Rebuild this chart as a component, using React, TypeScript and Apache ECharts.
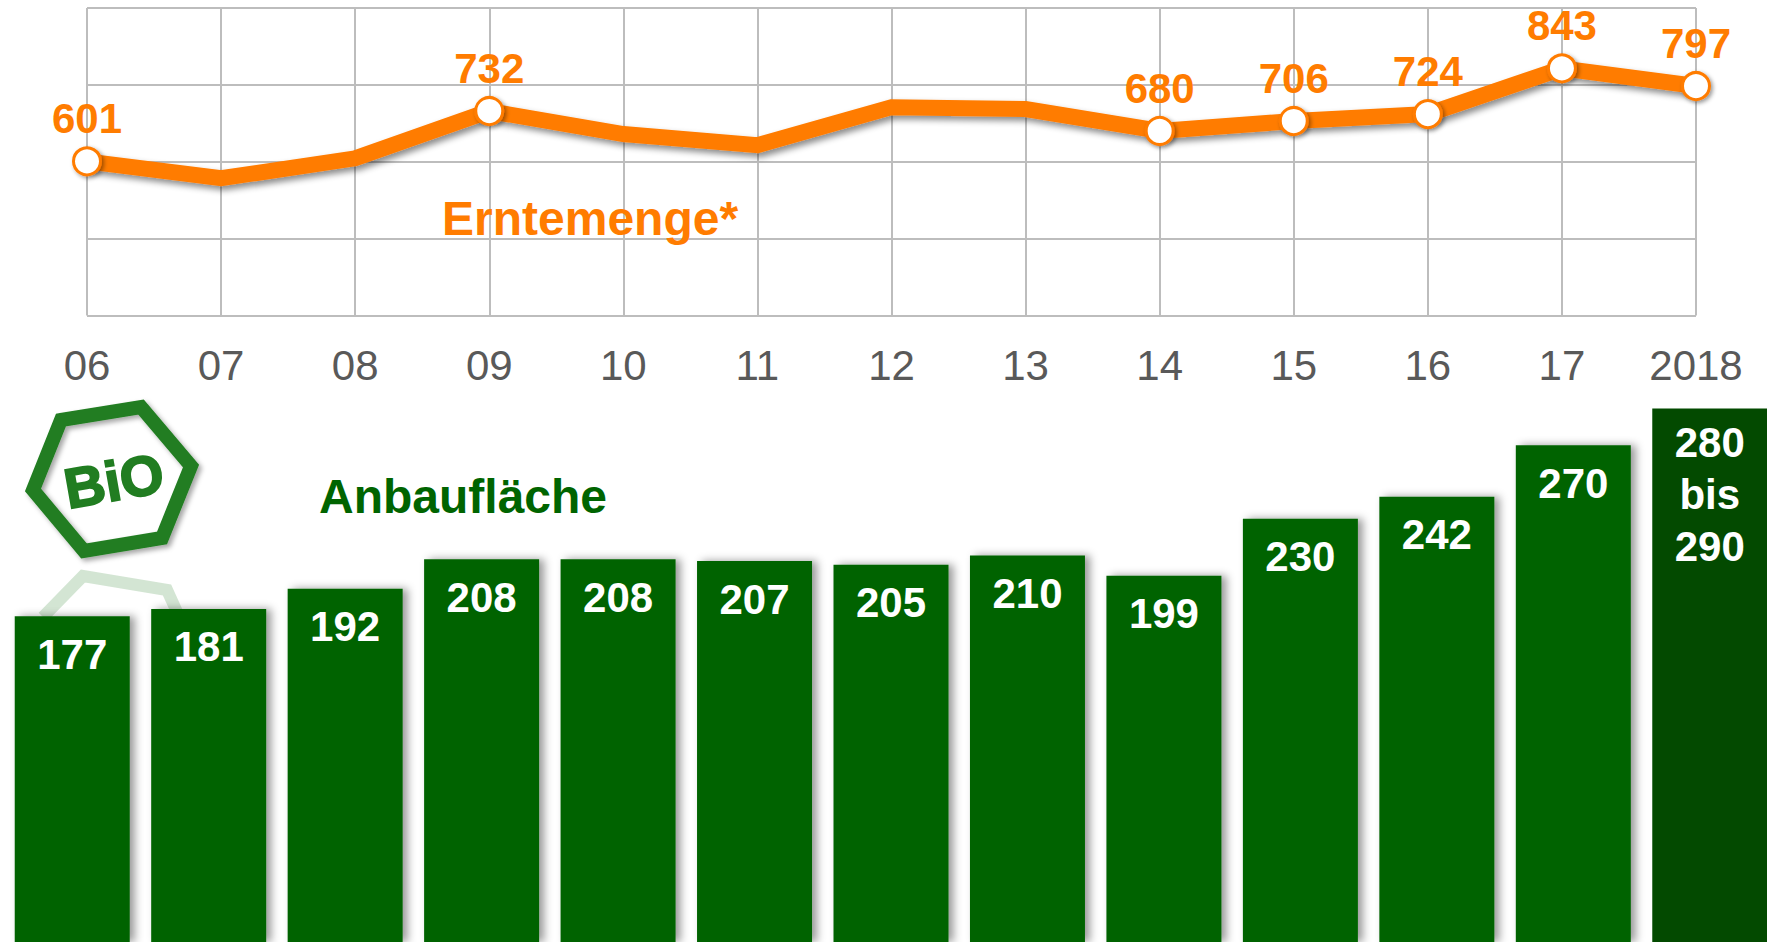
import React, { useEffect, useRef } from "react";
import * as echarts from "echarts";

const lineCategories = ["06", "07", "08", "09", "10", "11", "12", "13", "14", "15", "16", "17", "2018"];
const harvestValues = [601, 557, 609, 732, 672, 643, 742, 737, 680, 706, 724, 843, 797];
const labelledHarvest = [true, false, false, true, false, false, false, false, true, true, true, true, true];
const areaValues = [177, 181, 192, 208, 208, 207, 205, 210, 199, 230, 242, 270, 290];
const areaLabels = ["177", "181", "192", "208", "208", "207", "205", "210", "199", "230", "242", "270", "280\nbis\n290"];
const harvestTitle = "Erntemenge*";
const areaTitle = "Anbaufläche";

const FONT = "Liberation Sans";
const ORANGE = "#ff7c00";
const GREEN = "#026402";
const DARK_GREEN = "#034a00";
const LOGO_GREEN = "#217d21";
const GRID_GREY = "#bdbdbd";

export default function App() {
  const ref = useRef<HTMLDivElement>(null);

  useEffect(() => {
    document.body.style.margin = "0";
    document.body.style.overflow = "hidden";
    const chart = echarts.init(ref.current!, null, { renderer: "svg" });
    chart.setOption({
      animation: false,
      backgroundColor: "#ffffff",
      textStyle: { fontFamily: FONT },
      grid: [
        { left: 87, top: 8, width: 1609, height: 307.5 },
        { left: 4, top: 390, width: 1774, height: 552 },
      ],
      xAxis: [
        {
          type: "category",
          gridIndex: 0,
          data: lineCategories,
          boundaryGap: false,
          axisLine: { show: false },
          axisTick: { show: false },
          axisLabel: { interval: 0, color: "#595959", fontSize: 42, fontFamily: FONT, margin: 29 },
          splitLine: { show: true, interval: 0, lineStyle: { color: GRID_GREY, width: 2 } },
        },
        {
          type: "category",
          gridIndex: 1,
          data: lineCategories,
          axisLine: { show: false },
          axisTick: { show: false },
          axisLabel: { show: false },
          splitLine: { show: false },
        },
      ],
      yAxis: [
        {
          type: "value",
          gridIndex: 0,
          min: 200,
          max: 1000,
          interval: 200,
          axisLine: { show: false },
          axisTick: { show: false },
          axisLabel: { show: false },
          splitLine: { show: true, lineStyle: { color: GRID_GREY, width: 2 } },
        },
        {
          type: "value",
          gridIndex: 1,
          min: 0,
          max: 300,
          axisLine: { show: false },
          axisTick: { show: false },
          axisLabel: { show: false },
          splitLine: { show: false },
        },
      ],
      series: [
        {
          type: "line",
          xAxisIndex: 0,
          yAxisIndex: 0,
          z: 5,
          data: harvestValues.map((value, i) => ({
            value,
            symbol: labelledHarvest[i] ? "circle" : "none",
            label: { show: labelledHarvest[i] },
          })),
          symbolSize: 27,
          showAllSymbol: true,
          lineStyle: {
            color: ORANGE,
            width: 16,
            join: "miter",
            shadowColor: "rgba(0,0,0,0.45)",
            shadowBlur: 6,
            shadowOffsetX: 3,
            shadowOffsetY: 4,
          },
          itemStyle: {
            color: "#ffffff",
            borderColor: ORANGE,
            borderWidth: 3,
            opacity: 1,
            shadowColor: "rgba(0,0,0,0.4)",
            shadowBlur: 4,
            shadowOffsetX: 2,
            shadowOffsetY: 2,
          },
          label: {
            position: "top",
            distance: 7,
            color: ORANGE,
            fontSize: 42,
            fontWeight: "bold",
            fontFamily: FONT,
          },
        },
        {
          type: "bar",
          xAxisIndex: 1,
          yAxisIndex: 1,
          z: 3,
          barWidth: 115,
          data: areaValues.map((value, i) => {
            const last = i === areaValues.length - 1;
            return {
              value,
              itemStyle: last
                ? { color: DARK_GREEN, shadowBlur: 0, shadowOffsetX: 0 }
                : { color: GREEN },
              label: {
                show: true,
                position: "insideTop",
                distance: last ? 8 : 15,
                formatter: areaLabels[i],
                lineHeight: last ? 52 : 46,
                color: "#ffffff",
                fontSize: 42,
                fontWeight: "bold",
                fontFamily: FONT,
              },
            };
          }),
          itemStyle: {
            shadowColor: "rgba(0,0,0,0.4)",
            shadowBlur: 8,
            shadowOffsetX: 5,
            shadowOffsetY: 0,
          },
        },
      ],
      graphic: [
        {
          type: "polyline",
          z: 0,
          shape: { points: [[43, 617], [83, 576], [167, 590], [177, 612]] },
          style: { stroke: "rgba(33,125,33,0.2)", lineWidth: 12, fill: "none" },
        },
        {
          type: "polygon",
          z: 1,
          shape: { points: [[61, 420], [141, 407], [191, 466], [162, 538], [84, 551], [33, 490]] },
          style: {
            stroke: LOGO_GREEN,
            fill: "none",
            lineWidth: 14,
            shadowColor: "rgba(0,0,0,0.35)",
            shadowBlur: 5,
            shadowOffsetX: 3,
            shadowOffsetY: 3,
          },
        },
        {
          type: "text",
          z: 1,
          x: 114,
          y: 481,
          rotation: (10 * Math.PI) / 180,
          style: {
            text: "BiO",
            fill: LOGO_GREEN,
            stroke: LOGO_GREEN,
            lineWidth: 2,
            font: `bold 56px "${FONT}"`,
            textAlign: "center",
            textVerticalAlign: "middle",
          },
        },
        {
          type: "text",
          z: 10,
          x: 442,
          y: 218,
          style: {
            text: harvestTitle,
            fill: ORANGE,
            font: `bold 48px "${FONT}"`,
            textAlign: "left",
            textVerticalAlign: "middle",
          },
        },
        {
          type: "text",
          z: 10,
          x: 319,
          y: 496,
          style: {
            text: areaTitle,
            fill: "#006400",
            font: `bold 48px "${FONT}"`,
            textAlign: "left",
            textVerticalAlign: "middle",
          },
        },
      ],
    });
    return () => chart.dispose();
  }, []);

  return <div ref={ref} style={{ position: "absolute", left: 0, top: 0, width: 1800, height: 942 }} />;
}
